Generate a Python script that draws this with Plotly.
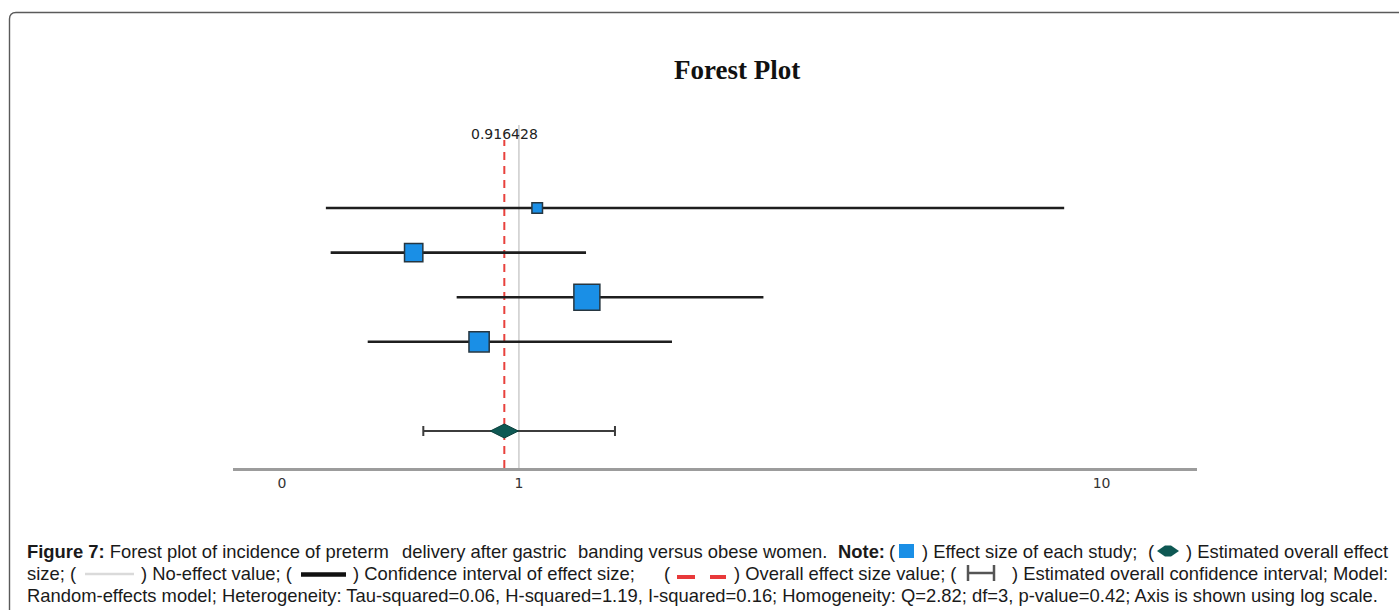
import numpy as np
import plotly.graph_objects as go

# ---- data -------------------------------------------------------------
studies = ["Study 1", "Study 2", "Study 3", "Study 4"]
effect = [1.11, 0.47, 1.44, 0.78]
ci_low = [0.137, 0.153, 0.667, 0.285]
ci_high = [8.86, 1.434, 3.09, 2.13]
weights = [7.3, 21.9, 44.1, 26.7]

overall = 0.916428
overall_low = 0.512
overall_high = 1.649
no_effect = 1.0

tick_vals = [0, 1, 10]
tick_text = ["0", "1", "10"]

# ---- geometry helpers -------------------------------------------------
W, H = 1399, 610


def tr(v):
    """log(1 + v) scale used for the effect-size axis."""
    return np.log10(1.0 + np.asarray(v, dtype=float))


def px(x):
    return x / W


def py(y):
    return 1 - y / H


rows = list(range(1, len(studies) + 1))
overall_row = len(studies) + 2

fig = go.Figure()

# confidence intervals of the individual studies
ci_x, ci_y = [], []
for lo, hi, r in zip(ci_low, ci_high, rows):
    ci_x += [float(tr(lo)), float(tr(hi)), None]
    ci_y += [r, r, None]
fig.add_trace(go.Scatter(
    x=ci_x, y=ci_y, mode="lines",
    line=dict(color="#1e1e1e", width=2.6),
    hoverinfo="skip", showlegend=False))

# study effect sizes, square area proportional to weight
wmax = max(weights)
sizes = [26 * np.sqrt(w / wmax) for w in weights]
fig.add_trace(go.Scatter(
    x=tr(effect), y=rows, mode="markers", text=studies,
    marker=dict(symbol="square", size=sizes, color="#1a8fe6", opacity=1,
                line=dict(color="#263640", width=1.5)),
    showlegend=False))

# pooled estimate with its confidence interval
c = float(tr(overall))
fig.add_trace(go.Scatter(
    x=[c], y=[overall_row], mode="markers",
    marker=dict(symbol="diamond-wide", size=20, color="#0e5853",
                line=dict(color="#0a403c", width=1)),
    error_x=dict(type="data", symmetric=False,
                 array=[float(tr(overall_high)) - c],
                 arrayminus=[c - float(tr(overall_low))],
                 thickness=2, width=5, color="#3c3c3c"),
    showlegend=False))

shapes = [
    # no-effect line
    dict(type="line", xref="x", yref="paper",
         x0=float(tr(no_effect)), x1=float(tr(no_effect)),
         y0=py(468), y1=py(125),
         line=dict(color="#cfcfcf", width=1.6), layer="below"),
    # overall effect line
    dict(type="line", xref="x", yref="paper", x0=c, x1=c,
         y0=py(468), y1=py(140),
         line=dict(color="#e8413c", width=2, dash="8px,6px"), layer="below"),
    # rounded frame
    dict(type="path", xref="paper", yref="paper",
         path=(f"M {px(9.5)},{py(650)} L {px(9.5)},{py(19)} "
               f"Q {px(9.5)},{py(12.5)} {px(16)},{py(12.5)} "
               f"L {px(1430)},{py(12.5)}"),
         line=dict(color="#5a5a5a", width=1.4)),
]

# caption icons
shapes += [
    dict(type="rect", xref="paper", yref="paper",
         x0=px(899), x1=px(914), y0=py(558), y1=py(544),
         fillcolor="#1a8fe6", line=dict(width=0)),
    dict(type="path", xref="paper", yref="paper",
         path=(f"M {px(1157)},{py(551)} L {px(1165)},{py(545.5)} "
               f"L {px(1171)},{py(545.5)} L {px(1179)},{py(551)} "
               f"L {px(1171)},{py(556.5)} L {px(1165)},{py(556.5)} Z"),
         fillcolor="#0e5853", line=dict(width=0)),
    dict(type="line", xref="paper", yref="paper",
         x0=px(85), x1=px(134), y0=py(574), y1=py(574),
         line=dict(color="#dadada", width=2.5)),
    dict(type="line", xref="paper", yref="paper",
         x0=px(301), x1=px(346), y0=py(574.5), y1=py(574.5),
         line=dict(color="#111111", width=4.5)),
    dict(type="line", xref="paper", yref="paper",
         x0=px(677), x1=px(695), y0=py(577), y1=py(577),
         line=dict(color="#e8393a", width=4)),
    dict(type="line", xref="paper", yref="paper",
         x0=px(710), x1=px(726), y0=py(577), y1=py(577),
         line=dict(color="#e8393a", width=4)),
    dict(type="line", xref="paper", yref="paper",
         x0=px(968), x1=px(994), y0=py(573), y1=py(573),
         line=dict(color="#555555", width=2.5)),
    dict(type="line", xref="paper", yref="paper",
         x0=px(968), x1=px(968), y0=py(565), y1=py(581),
         line=dict(color="#555555", width=2.5)),
    dict(type="line", xref="paper", yref="paper",
         x0=px(994), x1=px(994), y0=py(565), y1=py(581),
         line=dict(color="#555555", width=2.5)),
]

annotations = [
    dict(text="<b>Forest Plot</b>", x=px(737), y=py(70),
         xref="paper", yref="paper", showarrow=False,
         xanchor="center", yanchor="middle",
         font=dict(family="Liberation Serif", size=27, color="#111111")),
    dict(text=f"{overall:g}", x=c, y=py(134), xref="x", yref="paper",
         showarrow=False, xanchor="center", yanchor="middle",
         font=dict(family="DejaVu Sans", size=14, color="#222222")),
]

cap_font = dict(family="Liberation Sans", size=18.4, color="#1a1a1a")


def cap(text, x, y, anchor="left"):
    annotations.append(dict(text=text, x=px(x), y=py(y), xref="paper",
                            yref="paper", showarrow=False, xanchor=anchor,
                            yanchor="middle", font=cap_font))


cap("<b>Figure 7:</b> Forest plot of incidence of preterm", 25, 551)
cap("delivery after gastric", 484, 551, "center")
cap("banding versus obese women.", 829, 551, "right")
cap("<b>Note:</b>", 836, 551)
cap("(", 887, 551)
cap(") Effect size of each study;", 920, 551)
cap("(", 1146, 551)
cap(") Estimated overall effect", 1390, 551, "right")
cap("size; (", 25, 573)
cap(") No-effect value; (", 139, 573)
cap(") Confidence interval of effect size;", 351, 573)
cap("(", 662, 573)
cap(") Overall effect size value; (", 732, 573)
cap(") Estimated overall confidence interval; Model:", 1390, 573, "right")
cap("Random-effects model; Heterogeneity: Tau-squared=0.06, H-squared=1.19, "
    "I-squared=0.16; Homogeneity: Q=2.82; df=3, p-value=0.42; "
    "Axis is shown using log scale.", 25, 595)

fig.update_layout(
    width=W, height=H,
    margin=dict(l=0, r=0, t=0, b=0),
    paper_bgcolor="white", plot_bgcolor="white",
    shapes=shapes, annotations=annotations,
    xaxis=dict(domain=[px(233), px(1197)],
               range=[(233 - 282) / 787, (1197 - 282) / 787],
               tickvals=tr(tick_vals), ticktext=tick_text,
               ticks="", showgrid=False, zeroline=False,
               showline=True, linecolor="#9c9c9c", linewidth=3,
               tickfont=dict(family="DejaVu Sans", size=14, color="#333333")),
    yaxis=dict(domain=[py(468), 1],
               range=[1 + (468 - 208) / 44.6, 1 - 208 / 44.6],
               visible=False),
)

fig.write_html("out.html")
